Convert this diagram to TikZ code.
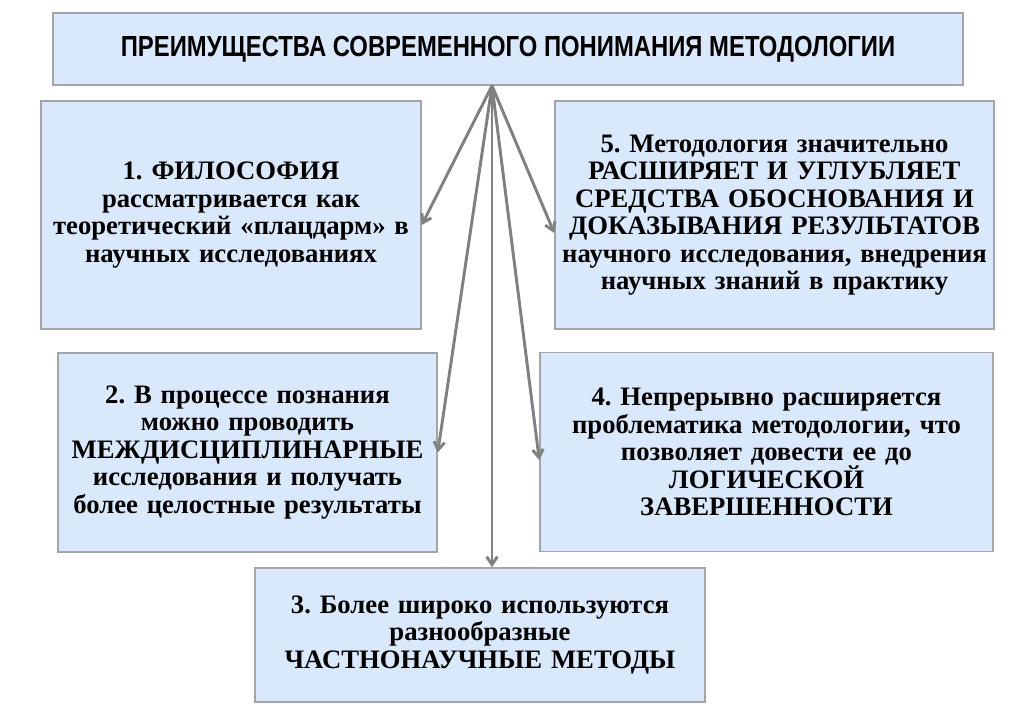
\documentclass[tikz,border=0pt]{standalone}
\usepackage{fontspec}
\setmainfont{Liberation Serif}
\newfontfamily\headfont{Liberation Sans}[FakeStretch=0.82]
\usepackage{xcolor}
\usetikzlibrary{arrows.meta, positioning, calc}
\definecolor{PanelBlue}{HTML}{D9E8FB}
\definecolor{PanelEdge}{HTML}{A3A6A9}
\definecolor{ArrowGrey}{HTML}{808080}
\frenchspacing

\begin{document}
\begin{tikzpicture}[x=0.75pt, y=-0.75pt, >={Straight Barb[length=6pt,width=8pt]}]
    \tikzstyle{panel} = [rectangle, draw=PanelEdge, fill=PanelBlue, line width=1.1pt, align=center, inner sep=0pt, font=\bfseries\fontsize{20pt}{20.6pt}\selectfont]
    \tikzstyle{head} = [panel, font=\headfont\bfseries\fontsize{21.8pt}{24pt}\selectfont]
    \tikzstyle{line} = [draw, ->, line width=2.2pt, ArrowGrey]

    \useasboundingbox (0,0) rectangle (1024,708);

    \node [head, minimum width=682.5pt, minimum height=54pt] (title) at (508,49) {ПРЕИМУЩЕСТВА СОВРЕМЕННОГО ПОНИМАНИЯ МЕТОДОЛОГИИ};
    \node [panel, text width=285pt, minimum height=171pt] (philo) at (231,215) {1. ФИЛОСОФИЯ\\рассматривается как\\теоретический «плацдарм» в\\научных исследованиях};
    \node [panel, text width=329.25pt, minimum height=171pt] (tools) at (774.5,215) {5. Методология значительно\\РАСШИРЯЕТ И УГЛУБЛЯЕТ\\СРЕДСТВА ОБОСНОВАНИЯ И\\ДОКАЗЫВАНИЯ РЕЗУЛЬТАТОВ\\научного исследования, внедрения\\научных знаний в практику};
    \node [panel, text width=284.25pt, minimum height=149.25pt] (inter) at (247.5,452.5) {2. В процессе познания\\можно проводить\\МЕЖДИСЦИПЛИНАРНЫЕ\\исследования и получать\\более целостные результаты};
    \node [panel, text width=339.75pt, minimum height=149.25pt] (logic) at (766.5,452) {4. Непрерывно расширяется\\проблематика методологии, что\\позволяет довести ее до\\ЛОГИЧЕСКОЙ\\ЗАВЕРШЕННОСТИ};
    \node [panel, text width=337.5pt, minimum height=100.5pt] (methods) at (480,635) {3. Более широко используются\\разнообразные\\ЧАСТНОНАУЧНЫЕ МЕТОДЫ};

    \coordinate (hub) at ([xshift=-12pt]title.south);

    \path [line] (hub) -- ([yshift=-7.5pt]philo.east);
    \path [line] (hub) -- ([yshift=-13.5pt]tools.west);
    \path [line] (hub) -- (inter.east);
    \path [line] (hub) -- ([yshift=-6pt]logic.west);
    \path [line] (hub) -- ([xshift=9pt]methods.north);
\end{tikzpicture}
\end{document}
